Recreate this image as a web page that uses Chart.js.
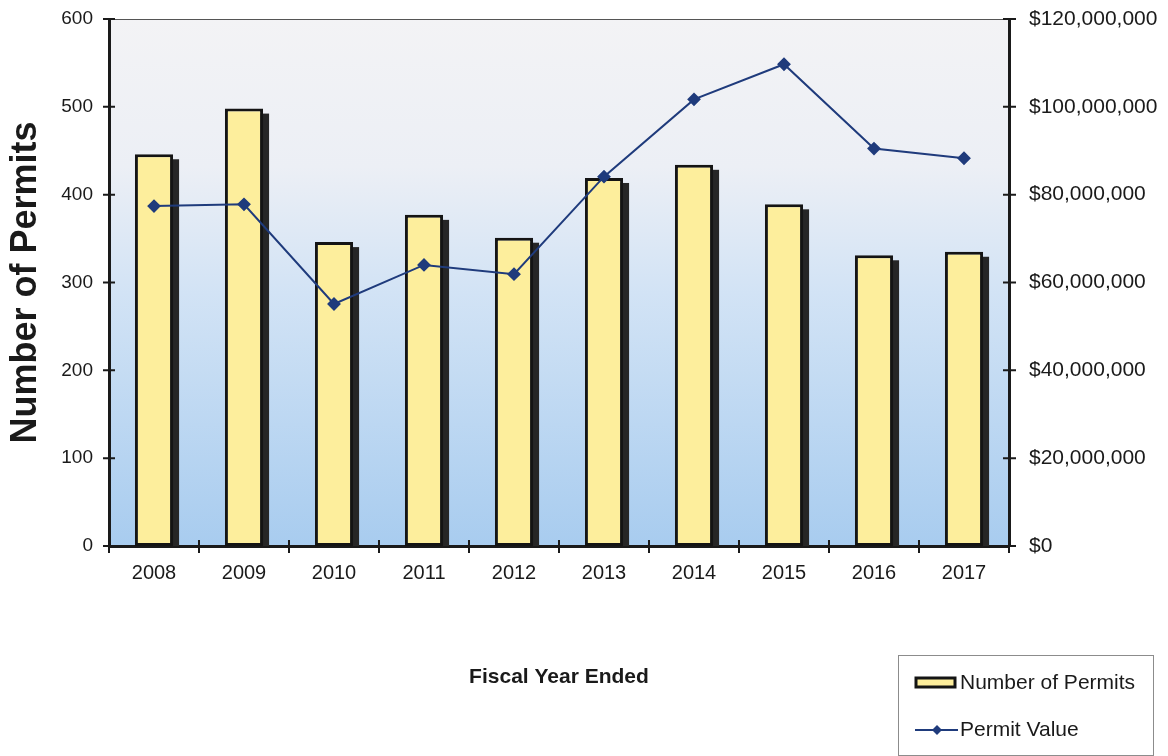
<!DOCTYPE html>
<html>
<head>
<meta charset="utf-8">
<script src="https://cdn.jsdelivr.net/npm/chart.js@4/dist/chart.umd.min.js"></script>
<style>
  html, body { margin: 0; padding: 0; background: #fff; }
  #wrap { width: 1168px; height: 756px; position: relative; }
</style>
</head>
<body>
<div id="wrap"><canvas id="permits"></canvas></div>
<script>
const years = ["2008", "2009", "2010", "2011", "2012", "2013", "2014", "2015", "2016", "2017"];
const permitCounts = [446, 498, 346, 377, 351, 419, 434, 389, 331, 335];
const permitValues = [77400000, 77800000, 55100000, 64000000, 61900000, 84100000, 101700000, 109700000, 90500000, 88300000];
const countTicks = [0, 100, 200, 300, 400, 500, 600];
const valueTicks = [0, 20000000, 40000000, 60000000, 80000000, 100000000, 120000000];

const FONT = "'Liberation Sans', Arial, sans-serif";
const INK = "#1a1a1a";
const BAR_FILL = "#fdee9c";
const BAR_EDGE = "#141414";
const LINE_BLUE = "#1f3b7c";

// light grey top fading into pale blue at the base of the plot
const plotBackground = {
  id: "plotBackground",
  beforeDraw(chart) {
    const { ctx, chartArea: a } = chart;
    const g = ctx.createLinearGradient(0, a.top, 0, a.bottom);
    g.addColorStop(0, "#f3f3f5");
    g.addColorStop(0.28, "#eceff5");
    g.addColorStop(0.52, "#d2e3f5");
    g.addColorStop(1, "#a8ccef");
    ctx.save();
    ctx.fillStyle = g;
    ctx.fillRect(a.left, a.top, a.right - a.left, a.bottom - a.top);
    ctx.restore();
  },
};

// hard drop shadow behind each bar, taken from the bar elements themselves
const barShadow = {
  id: "barShadow",
  beforeDatasetDraw(chart, args) {
    if (chart.data.datasets[args.index].type !== "bar") return;
    const { ctx, chartArea: a } = chart;
    ctx.save();
    ctx.beginPath();
    ctx.rect(a.left, a.top, a.right - a.left, a.bottom - a.top);
    ctx.clip();
    ctx.fillStyle = "#262626";
    for (const bar of args.meta.data) {
      const { x, y, base, width } = bar.getProps(["x", "y", "base", "width"], true);
      ctx.fillRect(x - width / 2 + 6, y + 5, width, base - y);
    }
    ctx.restore();
  },
};

// tick marks that cross the axis lines, plus the thin top edge
const axisMarks = {
  id: "axisMarks",
  afterDraw(chart) {
    const { ctx, chartArea: a, scales } = chart;
    ctx.save();
    ctx.strokeStyle = "#555";
    ctx.lineWidth = 1;
    ctx.beginPath();
    ctx.moveTo(a.left, a.top + 0.5);
    ctx.lineTo(a.right, a.top + 0.5);
    ctx.stroke();

    ctx.strokeStyle = INK;
    ctx.lineWidth = 2;
    ctx.beginPath();
    for (const t of scales.y.ticks) {
      const py = scales.y.getPixelForValue(t.value);
      ctx.moveTo(a.left - 6, py);
      ctx.lineTo(a.left + 6, py);
    }
    for (const t of scales.y1.ticks) {
      const py = scales.y1.getPixelForValue(t.value);
      ctx.moveTo(a.right - 6, py);
      ctx.lineTo(a.right + 7, py);
    }
    for (let i = 0; i <= years.length; i++) {
      const px = scales.x.getPixelForValue(i - 0.5);
      ctx.moveTo(px, a.bottom - 6);
      ctx.lineTo(px, a.bottom + 7);
    }
    ctx.stroke();
    ctx.restore();
  },
};

// boxed legend in the lower right corner
const boxLegend = {
  id: "boxLegend",
  afterDraw(chart) {
    const ctx = chart.ctx;
    const [bars, line] = chart.data.datasets;
    const x = 898, y = 655, w = 255, h = 100;
    ctx.save();
    ctx.fillStyle = "#fff";
    ctx.fillRect(x, y, w, h);
    ctx.strokeStyle = "#8c8c8c";
    ctx.lineWidth = 1;
    ctx.strokeRect(x + 0.5, y + 0.5, w, h);

    ctx.fillStyle = bars.backgroundColor;
    ctx.strokeStyle = bars.borderColor;
    ctx.lineWidth = 3;
    ctx.fillRect(x + 18, y + 23, 39, 9);
    ctx.strokeRect(x + 18, y + 23, 39, 9);

    ctx.strokeStyle = line.borderColor;
    ctx.lineWidth = 2;
    ctx.beginPath();
    ctx.moveTo(x + 17, y + 75);
    ctx.lineTo(x + 60, y + 75);
    ctx.stroke();
    ctx.fillStyle = line.borderColor;
    ctx.beginPath();
    ctx.moveTo(x + 39, y + 70);
    ctx.lineTo(x + 44, y + 75);
    ctx.lineTo(x + 39, y + 80);
    ctx.lineTo(x + 34, y + 75);
    ctx.closePath();
    ctx.fill();

    ctx.fillStyle = INK;
    ctx.font = "21px " + FONT;
    ctx.textBaseline = "middle";
    ctx.fillText(bars.label, x + 62, y + 28);
    ctx.fillText(line.label, x + 62, y + 75);
    ctx.restore();
  },
};

// fixed axis widths; the label overhang is already covered by layout padding
function fixWidth(width) {
  return (scale) => {
    scale.width = width;
    scale.paddingTop = 0;
    scale.paddingBottom = 0;
  };
}

new Chart(document.getElementById("permits"), {
  data: {
    labels: years,
    datasets: [
      {
        type: "bar",
        label: "Number of Permits",
        data: permitCounts,
        yAxisID: "y",
        backgroundColor: BAR_FILL,
        borderColor: BAR_EDGE,
        borderWidth: 3,
        borderSkipped: false,
        barPercentage: 0.53,
        categoryPercentage: 0.8,
        order: 1,
      },
      {
        type: "line",
        label: "Permit Value",
        data: permitValues,
        yAxisID: "y1",
        borderColor: LINE_BLUE,
        backgroundColor: LINE_BLUE,
        borderWidth: 2,
        pointStyle: "rectRot",
        pointRadius: 5.5,
        pointBackgroundColor: LINE_BLUE,
        pointBorderColor: LINE_BLUE,
        tension: 0,
        order: 0,
      },
    ],
  },
  options: {
    responsive: true,
    maintainAspectRatio: false,
    animation: false,
    layout: { padding: { top: 19, bottom: 0, left: 0, right: 0 } },
    plugins: {
      legend: { display: false },
      tooltip: { enabled: false },
    },
    scales: {
      x: {
        offset: true,
        grid: { display: false, drawTicks: false },
        border: { display: true, color: INK, width: 3 },
        ticks: { color: INK, font: { family: FONT, size: 20 }, padding: 15 },
        title: {
          display: true,
          text: "Fiscal Year Ended",
          color: INK,
          font: { family: FONT, size: 21, weight: "bold" },
          padding: { top: 0, bottom: 66 },
        },
        afterFit(scale) { scale.height = 210; },
      },
      y: {
        position: "left",
        min: 0,
        max: 600,
        afterBuildTicks(scale) { scale.ticks = countTicks.map((v) => ({ value: v })); },
        grid: { display: false, drawTicks: false },
        border: { display: true, color: INK, width: 3 },
        ticks: { color: INK, font: { family: FONT, size: 19 }, padding: 16 },
        title: {
          display: true,
          text: "Number of Permits",
          color: INK,
          font: { family: FONT, size: 36, weight: "bold" },
          padding: { top: 4, bottom: 0 },
        },
        afterFit: fixWidth(109),
      },
      y1: {
        position: "right",
        min: 0,
        max: 120000000,
        afterBuildTicks(scale) { scale.ticks = valueTicks.map((v) => ({ value: v })); },
        grid: { display: false, drawTicks: false },
        border: { display: true, color: INK, width: 3 },
        ticks: {
          color: INK,
          font: { family: FONT, size: 21 },
          padding: 20,
          callback: (v) => "$" + Number(v).toLocaleString("en-US"),
        },
        afterFit: fixWidth(159),
      },
    },
  },
  plugins: [plotBackground, barShadow, axisMarks, boxLegend],
});
</script>
</body>
</html>
